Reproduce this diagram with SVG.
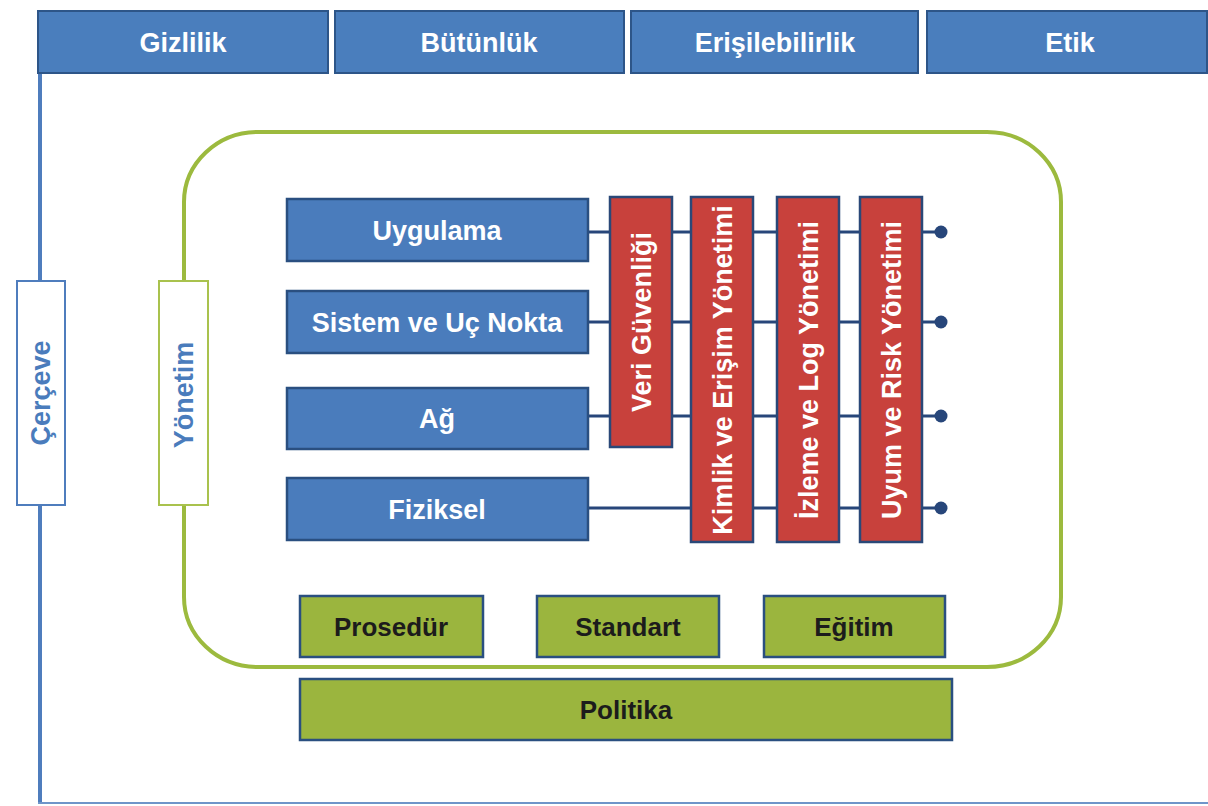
<svg xmlns="http://www.w3.org/2000/svg" width="1208" height="806" viewBox="0 0 1208 806">
<style>
.t{font-family:"Liberation Sans",Arial,Helvetica,sans-serif;font-weight:bold;text-anchor:middle}
.top{fill:#4a7ebd;stroke:#2d5588;stroke-width:2}
.layer{fill:#4a7cbc;stroke:#2a4f80;stroke-width:2.5}
.red{fill:#c8413c;stroke:#2a4878;stroke-width:2.5}
.grn{fill:#9bb53e;stroke:#2a4f80;stroke-width:2.5}
.wt{fill:#ffffff;font-size:27px}
.dk{fill:#1c1c1c;font-size:26px}
.conn{stroke:#27467a;stroke-width:3;fill:none}
</style>
<rect x="0" y="0" width="1208" height="806" fill="#ffffff"/>
<g id="frame">
<line x1="40" y1="70" x2="40" y2="804" stroke="#4f7dbd" stroke-width="4"/>
<line x1="38" y1="803" x2="1208" y2="803" stroke="#6f95c9" stroke-width="2"/>
</g>
<g id="gizlilik"><rect class="top" x="38" y="11" width="290" height="62"/><text class="t wt" x="183" y="52">Gizlilik</text></g>
<g id="butunluk"><rect class="top" x="335" y="11" width="289" height="62"/><text class="t wt" x="479" y="52">Bütünlük</text></g>
<g id="erisilebilirlik"><rect class="top" x="631" y="11" width="287" height="62"/><text class="t wt" x="775" y="52">Erişilebilirlik</text></g>
<g id="etik"><rect class="top" x="927" y="11" width="280" height="62"/><text class="t wt" x="1070" y="52">Etik</text></g>
<g id="yonetim-cerceve">
<rect x="184" y="132" width="877" height="535" rx="74" ry="70" fill="none" stroke="#9cba3e" stroke-width="4"/>
</g>
<g id="cerceve">
<rect x="17" y="281" width="48" height="224" fill="#ffffff" stroke="#4f7dbd" stroke-width="2"/>
<text class="t" x="0" y="0" transform="translate(50,393) rotate(-90)" fill="#4a7cbc" font-size="27">Çerçeve</text>
</g>
<g id="yonetim">
<rect x="159" y="281" width="49" height="224" fill="#ffffff" stroke="#a9c24e" stroke-width="2"/>
<text class="t" x="0" y="0" transform="translate(193,395) rotate(-90)" fill="#4a7cbc" font-size="27">Yönetim</text>
</g>
<g id="connectors">
<line class="conn" x1="588" y1="232" x2="940" y2="232"/>
<line class="conn" x1="588" y1="322" x2="940" y2="322"/>
<line class="conn" x1="588" y1="416" x2="940" y2="416"/>
<line class="conn" x1="588" y1="508" x2="940" y2="508"/>
<circle cx="941" cy="232" r="6.5" fill="#27467a"/>
<circle cx="941" cy="322" r="6.5" fill="#27467a"/>
<circle cx="941" cy="416" r="6.5" fill="#27467a"/>
<circle cx="941" cy="508" r="6.5" fill="#27467a"/>
</g>
<g id="uygulama"><rect class="layer" x="287" y="199" width="301" height="62"/><text class="t wt" x="437" y="240">Uygulama</text></g>
<g id="sistem"><rect class="layer" x="287" y="291" width="301" height="62"/><text class="t wt" x="437" y="332">Sistem ve Uç Nokta</text></g>
<g id="ag"><rect class="layer" x="287" y="388" width="301" height="61"/><text class="t wt" x="437" y="428">Ağ</text></g>
<g id="fiziksel"><rect class="layer" x="287" y="478" width="301" height="62"/><text class="t wt" x="437" y="519">Fiziksel</text></g>
<g id="veri"><rect class="red" x="610" y="197" width="62" height="250"/><text class="t wt" x="0" y="0" font-size="26" transform="translate(651,322) rotate(-90)">Veri Güvenliği</text></g>
<g id="kimlik"><rect class="red" x="691" y="197" width="62" height="345"/><text class="t wt" x="0" y="0" font-size="26" transform="translate(732,370) rotate(-90)">Kimlik ve Erişim Yönetimi</text></g>
<g id="izleme"><rect class="red" x="777" y="197" width="62" height="345"/><text class="t wt" x="0" y="0" font-size="26" transform="translate(818,370) rotate(-90)">İzleme ve Log Yönetimi</text></g>
<g id="uyum"><rect class="red" x="860" y="197" width="62" height="345"/><text class="t wt" x="0" y="0" font-size="26" transform="translate(901,370) rotate(-90)">Uyum ve Risk Yönetimi</text></g>
<g id="prosedur"><rect class="grn" x="300" y="596" width="183" height="61"/><text class="t dk" x="391" y="636">Prosedür</text></g>
<g id="standart"><rect class="grn" x="537" y="596" width="182" height="61"/><text class="t dk" x="628" y="636">Standart</text></g>
<g id="egitim"><rect class="grn" x="764" y="596" width="181" height="61"/><text class="t dk" x="854" y="636">Eğitim</text></g>
<g id="politika"><rect class="grn" x="300" y="679" width="652" height="61"/><text class="t dk" x="626" y="719">Politika</text></g>
</svg>
